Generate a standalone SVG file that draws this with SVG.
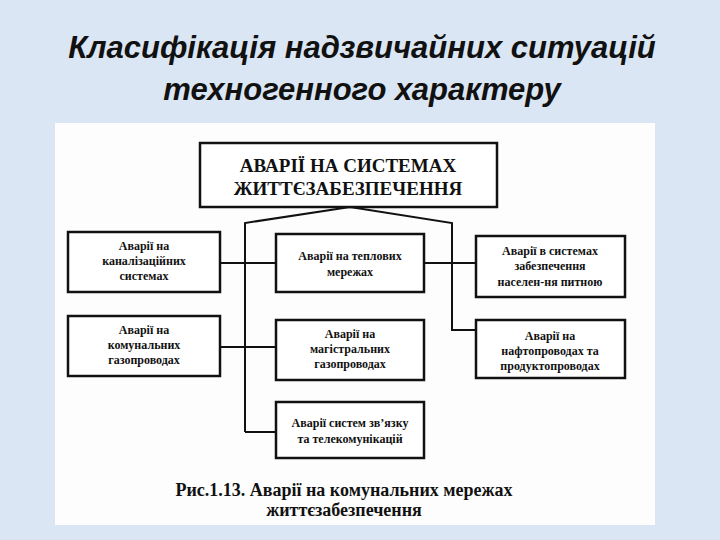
<svg xmlns="http://www.w3.org/2000/svg" width="720" height="540" viewBox="0 0 720 540">
<style>
.b{fill:#fff;stroke:#111;stroke-width:2.5}
.t{font-family:"Liberation Serif",serif;font-weight:bold;font-size:12px;text-anchor:middle;fill:#111}
.r{font-family:"Liberation Serif",serif;font-weight:bold;font-size:19px;text-anchor:middle;fill:#111}
.c{fill:none;stroke:#111;stroke-width:2}
</style>
<rect width="720" height="540" fill="#dae6f3"/>
<g font-family="Liberation Sans,sans-serif" font-style="italic" font-weight="bold" font-size="31" text-anchor="middle" fill="#111">
<text x="362" y="58">Класифікація надзвичайних ситуацій</text>
<text x="362" y="100">техногенного характеру</text>
</g>
<rect x="55" y="123" width="600" height="402" fill="#fdfdfd"/>
<g id="connectors">
<polyline class="c" points="245,432 245,223 350,207 452,223 452,330 476,330"/>
<line class="c" x1="220" y1="263" x2="276" y2="263"/>
<line class="c" x1="424" y1="263" x2="476" y2="263"/>
<line class="c" x1="220" y1="347" x2="276" y2="347"/>
<line class="c" x1="245" y1="432" x2="276" y2="432"/>
</g>
<g id="root"><rect class="b" x="200" y="143" width="297" height="64"/>
<text class="r" x="348" y="172">АВАРІЇ НА СИСТЕМАХ</text>
<text class="r" x="348" y="195">ЖИТТЄЗАБЕЗПЕЧЕННЯ</text></g>
<g id="n1"><rect class="b" x="68" y="232" width="152" height="60"/>
<text class="t" x="144" y="250">Аварії на</text><text class="t" x="144" y="265">каналізаційних</text><text class="t" x="144" y="280">системах</text></g>
<g id="n2"><rect class="b" x="68" y="316" width="152" height="60"/>
<text class="t" x="144" y="334">Аварії на</text><text class="t" x="144" y="349">комунальних</text><text class="t" x="144" y="364">газопроводах</text></g>
<g id="n3"><rect class="b" x="276" y="234" width="148" height="58"/>
<text class="t" x="350" y="260">Аварії  на теплових</text><text class="t" x="350" y="276">мережах</text></g>
<g id="n4"><rect class="b" x="276" y="320" width="148" height="60"/>
<text class="t" x="350" y="338">Аварії  на</text><text class="t" x="350" y="353">магістральних</text><text class="t" x="350" y="368">газопроводах</text></g>
<g id="n5"><rect class="b" x="276" y="402" width="148" height="56"/>
<text class="t" x="350" y="427">Аварії систем зв’язку</text><text class="t" x="350" y="443">та телекомунікацій</text></g>
<g id="n6"><rect class="b" x="476" y="236" width="149" height="61"/>
<text class="t" x="550" y="255">Аварії в системах</text><text class="t" x="550" y="270">забезпечення</text><text class="t" x="550" y="286">населен-ня питною</text></g>
<g id="n7"><rect class="b" x="476" y="320" width="149" height="58"/>
<text class="t" x="550" y="340">Аварії на</text><text class="t" x="550" y="355">нафтопроводах та</text><text class="t" x="550" y="370">продуктопроводах</text></g>
<g font-family="Liberation Serif,serif" font-weight="bold" font-size="18" text-anchor="middle" fill="#111">
<text x="344" y="496">Рис.1.13. Аварії на комунальних мережах</text>
<text x="344" y="516">життєзабезпечення</text>
</g>
</svg>
